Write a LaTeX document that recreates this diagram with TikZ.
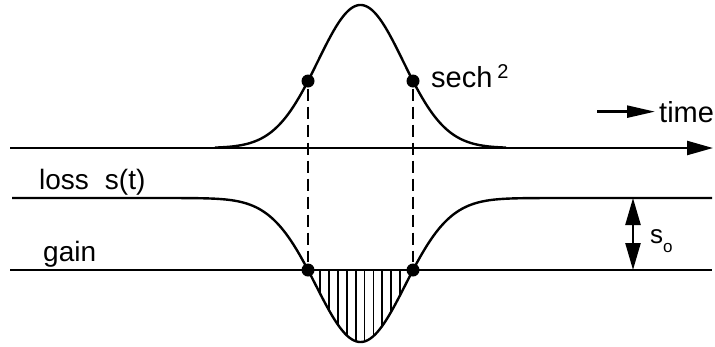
\documentclass[tikz,border=0pt]{standalone}
\usepackage{fontspec}
\setmainfont{Liberation Sans}
\usetikzlibrary{arrows.meta}
\begin{document}
\begin{tikzpicture}[x=1pt,y=-1pt,line width=2.4pt,
  dashline/.style={dash pattern=on 12pt off 6pt,line width=2.1pt},
  dotmark/.style={circle,fill,draw=none,inner sep=0pt,minimum size=13pt},
  lbl/.style={font=\fontsize{28}{32}\selectfont,inner sep=0pt},
  biglbl/.style={font=\fontsize{29}{33}\selectfont,inner sep=0pt},
  hatch/.style={line width=1.8pt},
  bigtip/.style={-{Triangle[length=26pt,width=14pt]}},
  dbltip/.style={{Triangle[length=27pt,width=15pt]}-{Triangle[length=27pt,width=15pt]}}]
\useasboundingbox (0,0) rectangle (715,346);
% time axis
\coordinate (axL) at (10,148);
\coordinate (axR) at (713,148);
\draw[bigtip] (axL) -- (axR);
% pulse
\draw plot[domain=215:506,samples=160,smooth] (\x,{148-143*exp(-pow((\x-360.5)/60.3,2))});
% loss curve
\draw plot[domain=12:712,samples=300,smooth] (\x,{198+144*exp(-pow((\x-360.5)/63.1,2))});
% gain line
\coordinate (gL) at (10,270);
\coordinate (gR) at (712,270);
\draw (gL) -- (gR);
% hatching
\foreach \k in {0,...,9}{
  \pgfmathsetmacro\hx{320+8.9*\k}
  \pgfmathsetmacro\hy{198+144*exp(-pow((\hx-360.5)/63.1,2))}
  \draw[hatch] (\hx,270) -- (\hx,\hy);
}
% dots
\node[dotmark] (p1) at (308,81) {};
\node[dotmark] (p2) at (413,81) {};
\node[dotmark] (g1) at (308,270) {};
\node[dotmark] (g2) at (413,270) {};
\draw[dashline] (p1) -- (g1);
\draw[dashline] (p2) -- (g2);
% s0 arrow
\coordinate (sT) at (633,198);
\coordinate (sB) at (633,270);
\draw[dbltip] (sT) -- (sB);
% labels
\node[lbl,anchor=base west] (loss) at (38,189) {loss\hspace{16pt}s(t)};
\node[lbl,anchor=base west] (gain) at (42,261) {gain};
\node[biglbl,anchor=base west] (sech) at (430,87) {sech\hspace{5pt}\raisebox{9pt}{\fontsize{20}{20}\selectfont 2}};
\node[biglbl,anchor=base west] (time) at (658,122) {time};
\coordinate (tA) at ([xshift=-61pt]time.west);
\draw[-{Triangle[length=28pt,width=12pt]}] (tA) -- ([xshift=-3pt]time.west);
\node[font=\fontsize{26}{30}\selectfont,inner sep=0pt,anchor=base west] (s0) at (649,243) {s\raisebox{-9pt}{\fontsize{17}{17}\selectfont o}};
\end{tikzpicture}
\end{document}
